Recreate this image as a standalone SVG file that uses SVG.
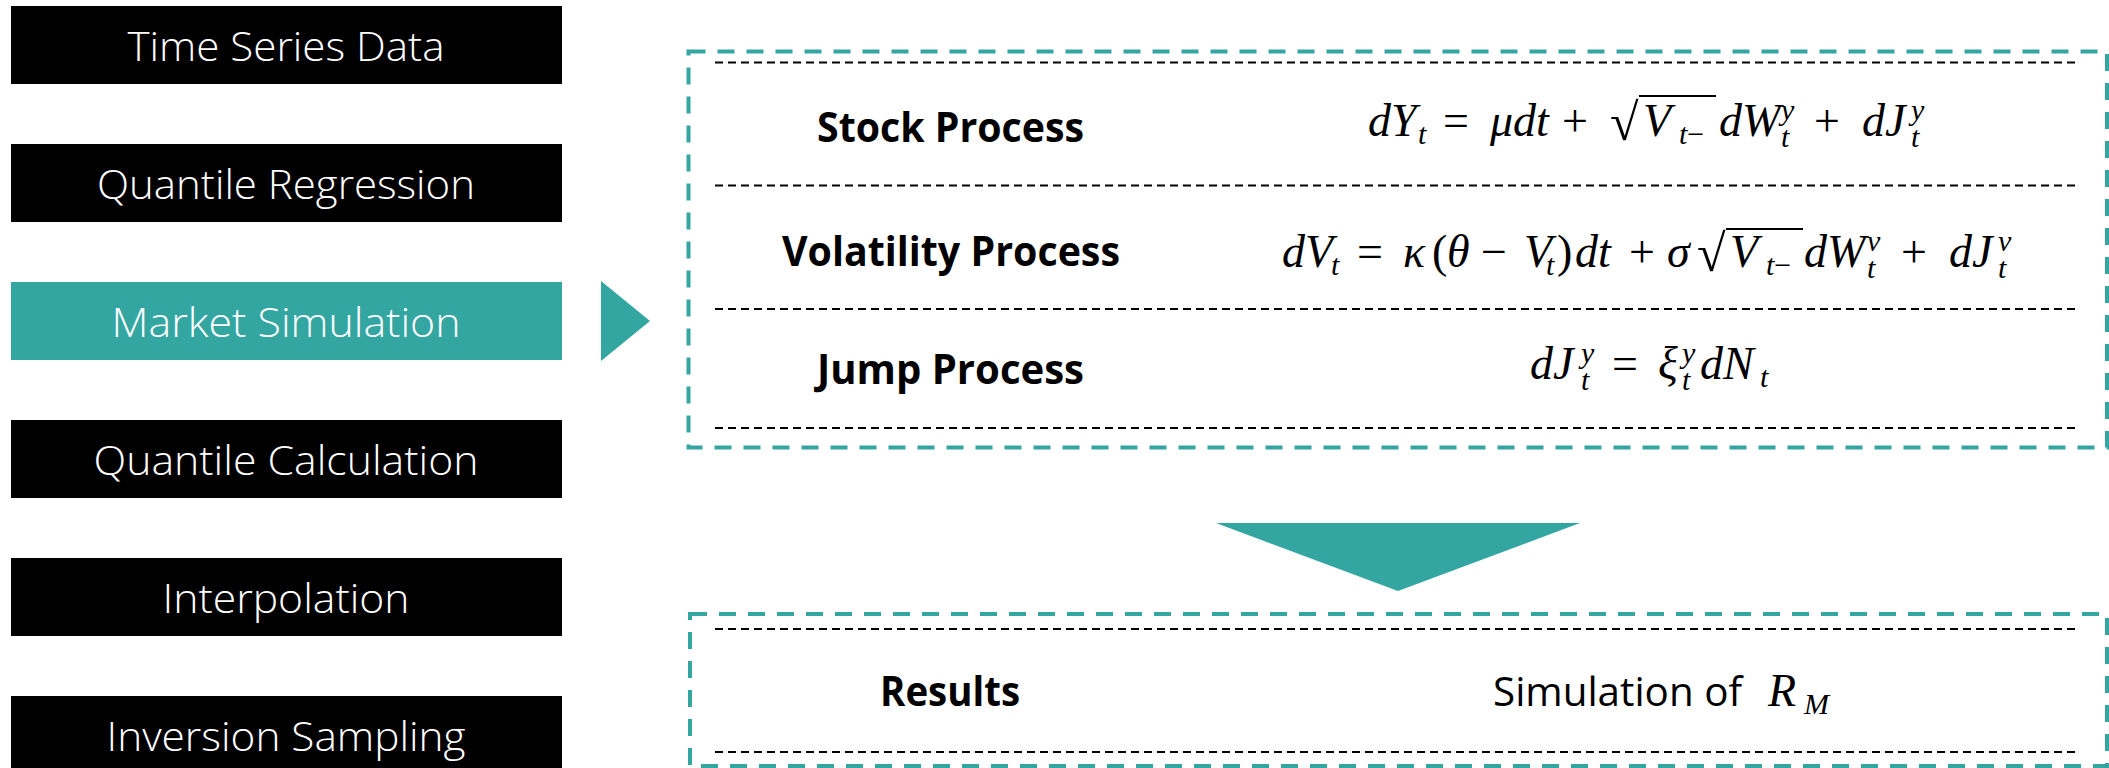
<svg xmlns="http://www.w3.org/2000/svg" width="2109" height="768" viewBox="0 0 2109 768">
<style>
.box{fill:#000000}
.hl{fill:#34A6A2}
.lt{font-family:"Open Sans","Liberation Sans",sans-serif;font-weight:300;font-size:40px;fill:#ffffff;text-anchor:middle}
.panel{fill:none;stroke:#34A6A2;stroke-width:4;stroke-dasharray:17 12}
.sep{stroke:#000000;stroke-width:2;stroke-dasharray:8 5}
.bl{font-family:"Open Sans","Liberation Sans",sans-serif;font-weight:700;font-size:42px;fill:#000;text-anchor:middle}
.rl{font-family:"Open Sans","Liberation Sans",sans-serif;font-weight:400;font-size:40px;fill:#000}
.eq{font-family:"Liberation Serif","DejaVu Serif",serif;font-style:italic;font-size:46px;fill:#000}
.mo{font-style:normal}
.ms{font-size:30px}
.rad{font-style:normal;font-size:52px}
.vinc{stroke:#000;stroke-width:2}
.arrow{fill:#34A6A2}
</style>

<g id="node-time-series-data">
<rect class="box" x="11" y="6" width="551" height="78"/>
<text class="lt" x="286" y="61" textLength="317" lengthAdjust="spacingAndGlyphs">Time Series Data</text>
</g>
<g id="node-quantile-regression">
<rect class="box" x="11" y="144" width="551" height="78"/>
<text class="lt" x="286" y="199" textLength="378" lengthAdjust="spacingAndGlyphs">Quantile Regression</text>
</g>
<g id="node-market-simulation">
<rect class="hl" x="11" y="282" width="551" height="78"/>
<text class="lt" x="286" y="337" textLength="349" lengthAdjust="spacingAndGlyphs">Market Simulation</text>
</g>
<g id="node-quantile-calculation">
<rect class="box" x="11" y="420" width="551" height="78"/>
<text class="lt" x="286" y="475" textLength="385" lengthAdjust="spacingAndGlyphs">Quantile Calculation</text>
</g>
<g id="node-interpolation">
<rect class="box" x="11" y="558" width="551" height="78"/>
<text class="lt" x="286" y="613" textLength="247" lengthAdjust="spacingAndGlyphs">Interpolation</text>
</g>
<g id="node-inversion-sampling">
<rect class="box" x="11" y="696" width="551" height="78"/>
<text class="lt" x="286" y="751" textLength="359" lengthAdjust="spacingAndGlyphs">Inversion Sampling</text>
</g>

<g id="connectors">
<polygon class="arrow" points="601,281 650,321 601,361"/>
<polygon class="arrow" points="1216,523 1580,523 1398,591"/>
</g>

<g id="node-model-panel">
<rect class="panel" x="688.5" y="51.5" width="1418.5" height="396"/>
<line class="sep" x1="715" y1="62.5" x2="2080" y2="62.5"/>
<line class="sep" x1="715" y1="185.5" x2="2080" y2="185.5"/>
<line class="sep" x1="715" y1="309" x2="2080" y2="309"/>
<line class="sep" x1="715" y1="428" x2="2080" y2="428"/>

<text class="bl" x="950.5" y="142" textLength="267" lengthAdjust="spacingAndGlyphs">Stock Process</text>
<text class="bl" x="951" y="266" textLength="338" lengthAdjust="spacingAndGlyphs">Volatility Process</text>
<text class="bl" x="950.5" y="384" textLength="267" lengthAdjust="spacingAndGlyphs">Jump Process</text>

<line class="vinc" x1="1639" y1="96" x2="1716" y2="96"/>
<text class="eq"><tspan x="1368" y="136">dY</tspan><tspan class="ms" x="1418" y="144">t</tspan><tspan class="mo" x="1443" y="136">=</tspan><tspan x="1490" y="136">μdt</tspan><tspan class="mo" x="1562" y="136">+</tspan><tspan class="rad" x="1610" y="140">√</tspan><tspan x="1643" y="136">V</tspan><tspan class="ms" x="1679" y="144">t</tspan><tspan class="ms mo" y="144">−</tspan><tspan x="1719" y="136">dW</tspan><tspan class="ms" x="1781" y="120">y</tspan><tspan class="ms" x="1781" y="147">t</tspan><tspan class="mo" x="1814" y="136">+</tspan><tspan x="1862" y="136">dJ</tspan><tspan class="ms" x="1911" y="120">y</tspan><tspan class="ms" x="1911" y="147">t</tspan></text>

<line class="vinc" x1="1726" y1="229" x2="1803" y2="229"/>
<text class="eq"><tspan x="1282" y="267">dV</tspan><tspan class="ms" x="1331" y="275">t</tspan><tspan class="mo" x="1357" y="267">=</tspan><tspan x="1403" y="267">κ</tspan><tspan class="mo" x="1432" y="267">(</tspan><tspan x="1447" y="267">θ</tspan><tspan class="mo" x="1481" y="267">−</tspan><tspan x="1524" y="267">V</tspan><tspan class="ms" x="1546" y="275">t</tspan><tspan class="mo" x="1557" y="267">)</tspan><tspan x="1575" y="267">dt</tspan><tspan class="mo" x="1629" y="267">+</tspan><tspan x="1667" y="267">σ</tspan><tspan class="rad" x="1697" y="271">√</tspan><tspan x="1730" y="267">V</tspan><tspan class="ms" x="1766" y="275">t</tspan><tspan class="ms mo" y="275">−</tspan><tspan x="1804" y="267">dW</tspan><tspan class="ms" x="1867" y="251">ν</tspan><tspan class="ms" x="1867" y="278">t</tspan><tspan class="mo" x="1901" y="267">+</tspan><tspan x="1949" y="267">dJ</tspan><tspan class="ms" x="1998" y="251">v</tspan><tspan class="ms" x="1998" y="278">t</tspan></text>

<text class="eq"><tspan x="1530" y="379">dJ</tspan><tspan class="ms" x="1581" y="363">y</tspan><tspan class="ms" x="1581" y="390">t</tspan><tspan class="mo" x="1612" y="379">=</tspan><tspan x="1658" y="379">ξ</tspan><tspan class="ms" x="1682" y="363">y</tspan><tspan class="ms" x="1682" y="390">t</tspan><tspan x="1700" y="379">dN</tspan><tspan class="ms" x="1760" y="387">t</tspan></text>
</g>

<g id="node-results-panel">
<rect class="panel" x="690" y="614" width="1417" height="152"/>
<line class="sep" x1="715" y1="629" x2="2080" y2="629"/>
<line class="sep" x1="715" y1="752" x2="2080" y2="752"/>
<text class="bl" x="950" y="706" textLength="140" lengthAdjust="spacingAndGlyphs">Results</text>
<text class="rl" x="1493" y="706" textLength="249" lengthAdjust="spacingAndGlyphs">Simulation of</text>
<text class="eq"><tspan x="1768" y="706">R</tspan><tspan class="ms" x="1804" y="714">M</tspan></text>
</g>
</svg>
